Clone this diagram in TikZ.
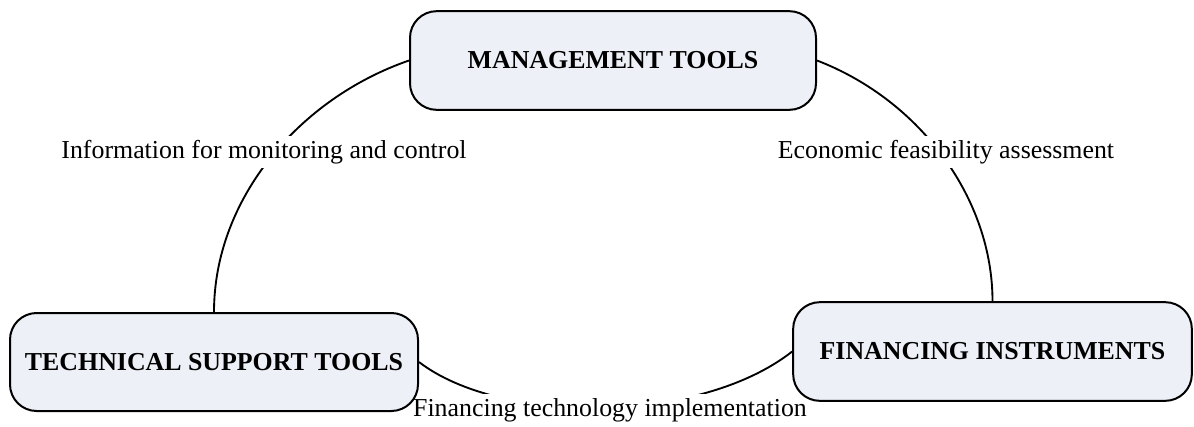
\documentclass[tikz,border=0pt]{standalone}
\usepackage{fontspec}
\setmainfont{Liberation Serif}
\usetikzlibrary{backgrounds}
\definecolor{boxfill}{RGB}{237,240,246}
\begin{document}
\begin{tikzpicture}[x=0.75pt,y=-0.75pt,
  toolbox/.style={draw=black,line width=1.5pt,fill=boxfill,rounded corners=20pt,
    font=\fontsize{19.4}{22}\selectfont\bfseries,inner sep=0pt},
  link/.style={line width=1.4pt,draw=black},
  linklabel/.style={fill=white,inner sep=3pt,font=\fontsize{19.4}{22}\selectfont}]
\useasboundingbox (0,0) rectangle (1194,426);
\node[toolbox,minimum width=304.5pt,minimum height=74pt] (m) at (613,60.5) {MANAGEMENT TOOLS};
\node[toolbox,minimum width=306pt,minimum height=73.5pt] (t) at (214,362) {TECHNICAL SUPPORT TOOLS};
\node[toolbox,minimum width=299pt,minimum height=74pt] (f) at (992.5,351.5) {FINANCING INSTRUMENTS};
\begin{scope}[on background layer]
\draw[link] (m.west) .. controls +(-110,38) and +(0,-113) .. (t.north);
\draw[link] (m.east) .. controls +(104,40) and +(0,-102) .. (f.north);
\draw[link] (t.east) .. controls +(82,63) and +(-93,73) .. (f.west);
\node[linklabel] (l1) at (264,152) {Information for monitoring and control};
\node[linklabel] (l2) at (946,152) {Economic feasibility assessment};
\node[linklabel] (l3) at (610,410) {Financing technology implementation};
\end{scope}
\end{tikzpicture}
\end{document}
